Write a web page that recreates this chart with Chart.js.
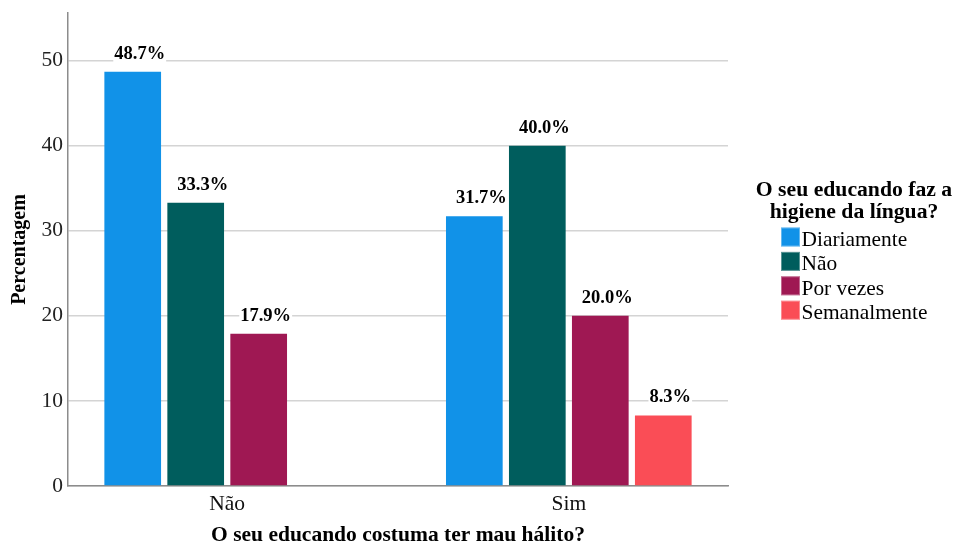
<!DOCTYPE html>
<html lang="pt">
<head>
<meta charset="UTF-8">
<title>Mau hálito e higiene da língua</title>
<script src="https://cdn.jsdelivr.net/npm/chart.js@4"></script>
<style>
  html, body { margin: 0; padding: 0; background: #fff; }
  #wrap { width: 955px; height: 546px; }
</style>
</head>
<body>
<div id="wrap"><canvas id="chart"></canvas></div>
<script>
// data
const groups = ['Não', 'Sim'];
const seriesNames = ['Diariamente', 'Não', 'Por vezes', 'Semanalmente'];
const diariamente = [48.7, 31.7];
const nao = [33.3, 40.0];
const porVezes = [17.9, 20.0];
const semanalmente = [null, 8.3];
const yTicks = [0, 10, 20, 30, 40, 50];

const colors = ['#1192e8', '#005d5d', '#9f1853', '#fa4d56'];
const xTitle = 'O seu educando costuma ter mau hálito?';
const yTitle = 'Percentagem';
const legendTitle = ['O seu educando faz a', 'higiene da língua?'];

const serif = '"Liberation Serif", "Times New Roman", serif';

const datasets = [diariamente, nao, porVezes, semanalmente].map((vals, i) => ({
  label: seriesNames[i],
  data: vals.map((v, j) => ({ x: j, y: v })),
  backgroundColor: colors[i],
  barPercentage: 0.9,
  categoryPercentage: 0.7375
}));

// percentage labels above the bars, on a white patch
const barLabels = {
  id: 'barLabels',
  afterDatasetsDraw(chart) {
    const ctx = chart.ctx;
    ctx.save();
    ctx.font = 'bold 18.5px ' + serif;
    ctx.textAlign = 'center';
    ctx.textBaseline = 'alphabetic';
    chart.data.datasets.forEach((ds, i) => {
      chart.getDatasetMeta(i).data.forEach((bar, j) => {
        const v = ds.data[j].y;
        if (v == null) return;
        const text = v.toFixed(1) + '%';
        const x = bar.x + 7, y = bar.y - 13;
        const w = ctx.measureText(text).width;
        ctx.fillStyle = '#fff';
        ctx.fillRect(x - w / 2 - 1, y - 15, w + 2, 20);
        ctx.fillStyle = '#000';
        ctx.fillText(text, x, y);
      });
    });
    ctx.restore();
  }
};

// legend on the right, drawn by hand so the title can wrap
const sideLegend = {
  id: 'sideLegend',
  afterDraw(chart) {
    const ctx = chart.ctx;
    ctx.save();
    ctx.fillStyle = '#000';
    ctx.textAlign = 'center';
    ctx.textBaseline = 'alphabetic';
    ctx.font = 'bold 21.7px ' + serif;
    legendTitle.forEach((line, i) => ctx.fillText(line, 854, 196 + i * 21.7));
    ctx.textAlign = 'left';
    ctx.font = '21.4px ' + serif;
    chart.data.datasets.forEach((ds, i) => {
      const y = 246 + i * 24.4;
      ctx.fillStyle = ds.backgroundColor;
      ctx.fillRect(781, y - 18.5, 19, 19);
      ctx.strokeStyle = 'rgba(255,255,255,0.35)';
      ctx.lineWidth = 1;
      ctx.strokeRect(781.5, y - 18, 18, 18);
      ctx.fillStyle = '#000';
      ctx.fillText(ds.label, 801.5, y);
    });
    ctx.restore();
  }
};

new Chart(document.getElementById('chart'), {
  type: 'bar',
  data: { datasets: datasets },
  options: {
    responsive: true,
    maintainAspectRatio: false,
    animation: false,
    devicePixelRatio: 1,
    layout: { padding: { top: 13, right: 227, bottom: 0, left: 0 } },
    plugins: {
      legend: { display: false },
      tooltip: { enabled: false }
    },
    scales: {
      x: {
        type: 'linear',
        offset: false,
        min: -0.466,
        max: 1.466,
        afterBuildTicks: s => { s.ticks = groups.map((g, i) => ({ value: i })); },
        afterFit: s => { s.height = 60; },
        grid: { display: false, drawTicks: false },
        border: { color: '#8c8c8c', width: 1.5 },
        ticks: {
          callback: v => groups[v],
          font: { family: serif, size: 21.5 },
          color: '#111',
          padding: 5,
          autoSkip: false,
          maxRotation: 0
        },
        title: {
          display: true,
          text: xTitle,
          font: { family: serif, size: 21.5, weight: 'bold', lineHeight: 1 },
          color: '#000',
          padding: 0
        }
      },
      y: {
        min: 0,
        max: 55.6,
        afterBuildTicks: s => { s.ticks = yTicks.map(v => ({ value: v })); },
        afterFit: s => { s.width = 68; s.paddingTop = 0; s.paddingBottom = 0; },
        grid: { color: '#d4d4d4', lineWidth: 1.5, drawTicks: false },
        border: { color: '#8c8c8c', width: 1.5 },
        ticks: {
          font: { family: serif, size: 21.5 },
          color: '#222',
          padding: 5
        },
        title: {
          display: true,
          text: yTitle,
          font: { family: serif, size: 20, weight: 'bold' },
          color: '#000',
          padding: { top: 8, bottom: 0 }
        }
      }
    }
  },
  plugins: [barLabels, sideLegend]
});
</script>
</body>
</html>
